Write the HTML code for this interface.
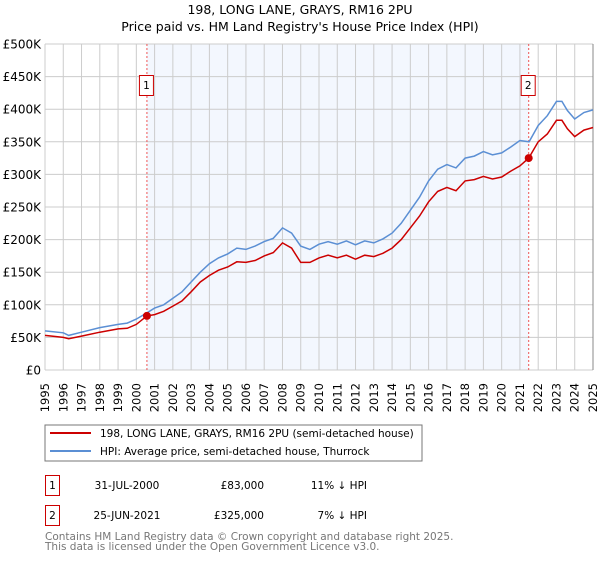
<!DOCTYPE html>
<html><head><meta charset="utf-8"><style>
body{margin:0;background:#fff;font-family:"DejaVu Sans","Liberation Sans",sans-serif;}
svg text{font-family:"DejaVu Sans","Liberation Sans",sans-serif;}
</style></head><body>
<svg id="c" width="600" height="560" xmlns="http://www.w3.org/2000/svg">
<text x="300" y="14" text-anchor="middle" font-size="12.5">198, LONG LANE, GRAYS, RM16 2PU</text>
<text x="300" y="31" text-anchor="middle" font-size="12.5">Price paid vs. HM Land Registry's House Price Index (HPI)</text>
<g id="plot"></g>
<rect x="45" y="425" width="377" height="36" fill="#fff" stroke="#777"/>
<line x1="50" y1="433" x2="91" y2="433" stroke="#cc0000" stroke-width="2"/>
<text x="100" y="437" font-size="10.5">198, LONG LANE, GRAYS, RM16 2PU (semi-detached house)</text>
<line x1="50" y1="451" x2="91" y2="451" stroke="#5b8fd4" stroke-width="2"/>
<text x="100" y="455" font-size="10.5">HPI: Average price, semi-detached house, Thurrock</text>
<g font-size="10.5">
<rect x="45.5" y="475.5" width="14" height="20" fill="none" stroke="#cc0000"/>
<text x="52.5" y="489" text-anchor="middle">1</text>
<text x="127" y="489" text-anchor="middle">31-JUL-2000</text>
<text x="264" y="489" text-anchor="end">£83,000</text>
<text x="367" y="489" text-anchor="end">11% ↓ HPI</text>
<rect x="45.5" y="505.5" width="14" height="20" fill="none" stroke="#cc0000"/>
<text x="52.5" y="519" text-anchor="middle">2</text>
<text x="127" y="519" text-anchor="middle">25-JUN-2021</text>
<text x="264" y="519" text-anchor="end">£325,000</text>
<text x="367" y="519" text-anchor="end">7% ↓ HPI</text>
</g>
<text x="45" y="540" font-size="10.5" fill="#777">Contains HM Land Registry data © Crown copyright and database right 2025.</text>
<text x="45" y="550" font-size="10.5" fill="#777">This data is licensed under the Open Government Licence v3.0.</text>
</svg>
<script>
const hpiYears=[1995,1996,1996.3,1997,1998,1999,1999.5,2000,2000.6,2001,2001.5,2002,2002.5,2003,2003.5,2004,2004.5,2005,2005.5,2006,2006.5,2007,2007.5,2008,2008.5,2009,2009.5,2010,2010.5,2011,2011.5,2012,2012.5,2013,2013.5,2014,2014.5,2015,2015.5,2016,2016.5,2017,2017.5,2018,2018.5,2019,2019.5,2020,2020.5,2021,2021.5,2022,2022.5,2023,2023.3,2023.6,2024,2024.5,2025];
const hpiValues=[60,57,53,58,65,70,72,78,88,95,100,110,120,135,150,163,172,178,187,185,190,197,202,218,210,190,185,193,197,193,198,192,198,195,201,210,225,245,265,290,308,315,310,325,328,335,330,333,342,352,350,375,390,412,412,398,385,395,399];
const propYears=[1995,1996,1996.3,1997,1998,1999,1999.5,2000,2000.58,2001,2001.5,2002,2002.5,2003,2003.5,2004,2004.5,2005,2005.5,2006,2006.5,2007,2007.5,2008,2008.5,2009,2009.5,2010,2010.5,2011,2011.5,2012,2012.5,2013,2013.5,2014,2014.5,2015,2015.5,2016,2016.5,2017,2017.5,2018,2018.5,2019,2019.5,2020,2020.5,2021,2021.48,2022,2022.5,2023,2023.3,2023.6,2024,2024.5,2025];
const propValues=[53,50,48,52,58,63,64,70,83,85,90,98,106,120,135,145,153,158,166,165,168,175,180,195,187,165,165,172,176,172,176,170,176,174,179,187,200,218,236,258,274,280,275,290,292,297,293,296,305,313,325,350,362,383,383,370,358,368,372];
const saleYears=[2000.58,2021.48];
const saleValues=[83,325];
const saleLabels=["1","2"];
const yTicks=[0,50,100,150,200,250,300,350,400,450,500];
const yTickLabels=["£0","£50K","£100K","£150K","£200K","£250K","£300K","£350K","£400K","£450K","£500K"];
const xTicks=[1995,1996,1997,1998,1999,2000,2001,2002,2003,2004,2005,2006,2007,2008,2009,2010,2011,2012,2013,2014,2015,2016,2017,2018,2019,2020,2021,2022,2023,2024,2025];

const X0=45,X1=593,Y0=370,Y1=44;
const xs=y=>X0+(y-1995)/30*(X1-X0);
const ys=v=>Y0-v/500*(Y0-Y1);
const NS="http://www.w3.org/2000/svg";
const g=document.getElementById('plot');
function mk(t,a){const e=document.createElementNS(NS,t);for(const k in a)e.setAttribute(k,a[k]);g.appendChild(e);return e;}
let e=mk('rect',{x:xs(saleYears[0]),y:Y1,width:xs(saleYears[1])-xs(saleYears[0]),height:Y0-Y1,fill:'#eef3fd',opacity:'0.7'});


xTicks.forEach(t=>{
 let l=mk('line',{x1:xs(t),x2:xs(t),y1:Y1,y2:Y0,stroke:'#cccccc'});
 
 
 let tx=mk('text',{x:0,y:0,'font-size':'11.5','text-anchor':'end',transform:`translate(${xs(t)+4},383) rotate(-90)`});
 tx.textContent=t;
 
 
});
yTicks.forEach((t,i)=>{
 let l=mk('line',{x1:X0,x2:X1,y1:ys(t),y2:ys(t),stroke:'#cccccc'});
 
 
 let tx=mk('text',{x:41,y:ys(t)+4.5,'font-size':'12','text-anchor':'end'});
 tx.textContent=yTickLabels[i];
 
 
});
e=mk('line',{x1:X1,x2:X1,y1:Y1,y2:Y0,stroke:'#888'});


saleYears.forEach((s,i)=>{
 let l=mk('line',{x1:xs(s),x2:xs(s),y1:Y1,y2:Y0,stroke:'#ee5555','stroke-dasharray':'2,2'});
 
 
});
function path(xa,va,col,name){
 let d=xa.map((y,i)=>(i?'L':'M')+xs(y).toFixed(1)+','+ys(va[i]).toFixed(1)).join('');
 let p=mk('path',{d:d,fill:'none',stroke:col,'stroke-width':'1.5'});
 
 
}
path(hpiYears,hpiValues,'#5b8fd4','hpi-line');
path(propYears,propValues,'#cc0000','property-line');
saleYears.forEach((s,i)=>{
 let c=mk('circle',{cx:xs(s),cy:ys(saleValues[i]),r:4,fill:'#cc0000'});
 
 
 let bx=xs(s)-7;
 let r=mk('rect',{x:bx-0.5,y:75.5,width:14,height:20,fill:'#fff',stroke:'#cc0000'});
 
 
 let t=mk('text',{x:xs(s)-0.5,y:89,'font-size':'10.5','text-anchor':'middle'});
 t.textContent=saleLabels[i];
 
 
});
</script>
</body></html>
